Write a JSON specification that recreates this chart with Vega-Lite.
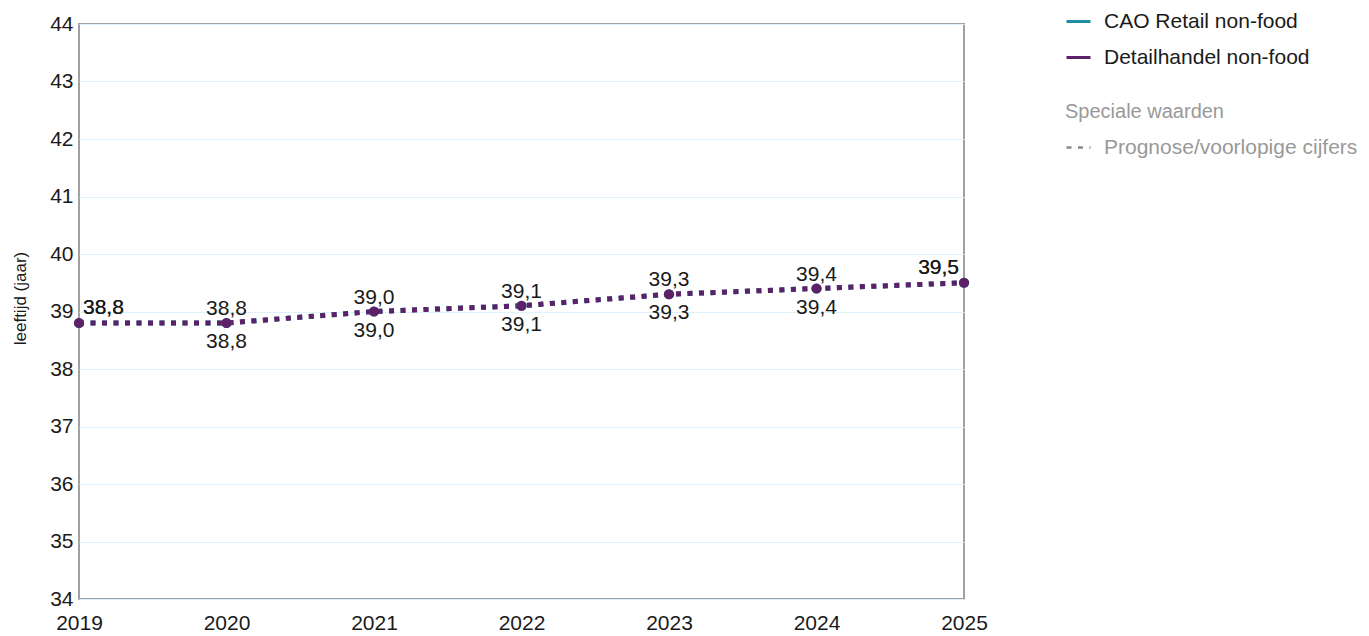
{
  "$schema": "https://vega.github.io/schema/vega-lite/v6.json",
  "width": 885,
  "height": 575,
  "autosize": {"type": "none"},
  "padding": {"left": 79, "top": 24, "right": 405, "bottom": 37},
  "background": "white",
  "config": {
    "font": "Liberation Sans",
    "locale": {"number": {"decimal": ",", "thousands": ".", "grouping": [3], "currency": ["€", ""]}},
    "view": {"stroke": "#a0a0a0", "strokeWidth": 2},
    "axis": {"labelFont": "Liberation Sans", "titleFont": "Liberation Sans"}
  },
  "data": {
    "values": [
      {"jaar": 2019, "reeks": "CAO Retail non-food", "waarde": 38.8, "status": "Prognose/voorlopige cijfers"},
      {"jaar": 2020, "reeks": "CAO Retail non-food", "waarde": 38.8, "status": "Prognose/voorlopige cijfers"},
      {"jaar": 2021, "reeks": "CAO Retail non-food", "waarde": 39.0, "status": "Prognose/voorlopige cijfers"},
      {"jaar": 2022, "reeks": "CAO Retail non-food", "waarde": 39.1, "status": "Prognose/voorlopige cijfers"},
      {"jaar": 2023, "reeks": "CAO Retail non-food", "waarde": 39.3, "status": "Prognose/voorlopige cijfers"},
      {"jaar": 2024, "reeks": "CAO Retail non-food", "waarde": 39.4, "status": "Prognose/voorlopige cijfers"},
      {"jaar": 2025, "reeks": "CAO Retail non-food", "waarde": 39.5, "status": "Prognose/voorlopige cijfers"},
      {"jaar": 2019, "reeks": "Detailhandel non-food", "waarde": 38.8, "status": "Prognose/voorlopige cijfers"},
      {"jaar": 2020, "reeks": "Detailhandel non-food", "waarde": 38.8, "status": "Prognose/voorlopige cijfers"},
      {"jaar": 2021, "reeks": "Detailhandel non-food", "waarde": 39.0, "status": "Prognose/voorlopige cijfers"},
      {"jaar": 2022, "reeks": "Detailhandel non-food", "waarde": 39.1, "status": "Prognose/voorlopige cijfers"},
      {"jaar": 2023, "reeks": "Detailhandel non-food", "waarde": 39.3, "status": "Prognose/voorlopige cijfers"},
      {"jaar": 2024, "reeks": "Detailhandel non-food", "waarde": 39.4, "status": "Prognose/voorlopige cijfers"},
      {"jaar": 2025, "reeks": "Detailhandel non-food", "waarde": 39.5, "status": "Prognose/voorlopige cijfers"}
    ]
  },
  "encoding": {
    "x": {
      "field": "jaar", "type": "quantitative",
      "scale": {"domain": [2019, 2025], "nice": false, "zero": false},
      "axis": {"values": [2019, 2020, 2021, 2022, 2023, 2024, 2025], "format": "d", "title": null, "grid": false, "ticks": false, "domain": false, "labelPadding": 13, "labelFontSize": 21, "labelColor": "#1a1a1a", "labelFlush": false, "labelOverlap": false}
    },
    "y": {
      "field": "waarde", "type": "quantitative",
      "scale": {"domain": [34, 44], "nice": false, "zero": false},
      "axis": {"values": [34, 35, 36, 37, 38, 39, 40, 41, 42, 43, 44], "format": "d", "title": "leeftijd (jaar)", "titleFontSize": 17, "titleFontWeight": "normal", "titleColor": "#1a1a1a", "titleX": -59, "titleY": 274, "titleAngle": -90, "titleAlign": "center", "titleBaseline": "middle", "grid": true, "gridColor": "#DDF3FB", "gridWidth": 1, "ticks": false, "domain": false, "labelPadding": 6, "labelFontSize": 21, "labelColor": "#1a1a1a", "labelFlush": false, "labelOverlap": false}
    },
    "color": {
      "field": "reeks", "type": "nominal",
      "scale": {"domain": ["CAO Retail non-food", "Detailhandel non-food"], "range": ["#1F8CA3", "#5C2167"]},
      "legend": {"title": null, "orient": "none", "legendX": 986, "legendY": -16, "symbolType": "stroke", "symbolSize": 576, "symbolStrokeWidth": 3, "labelFontSize": 21, "labelColor": "#1a1a1a", "labelLimit": 0, "rowPadding": 12, "labelOffset": 12, "labelFont": "Liberation Sans"}
    }
  },
  "layer": [
    {
      "mark": {"type": "line", "strokeWidth": 5, "strokeCap": "butt"},
      "encoding": {
        "strokeDash": {
          "field": "status", "type": "nominal",
          "scale": {"range": [[5, 6.5]]},
          "legend": {"title": "Speciale waarden", "orient": "none", "legendX": 986, "legendY": 78, "titleColor": "#999999", "titleFontSize": 20, "titleFontWeight": "normal", "titleFont": "Liberation Sans", "titlePadding": 12, "titleLimit": 0, "labelColor": "#999999", "labelFontSize": 21, "labelFont": "Liberation Sans", "labelLimit": 0, "labelOffset": 12, "symbolType": "stroke", "symbolSize": 576, "symbolStrokeWidth": 2.5,
            "encode": {"symbols": {"update": {"strokeDash": {"value": [2.5, 3]}, "stroke": {"value": "#888888"}}}}}
        }
      }
    },
    {
      "mark": {"type": "point", "filled": true, "size": 105, "opacity": 1}
    },
    {
      "transform": [{"filter": "datum.reeks === 'CAO Retail non-food' && datum.jaar > 2019 && datum.jaar < 2025"}],
      "mark": {"type": "text", "fontSize": 21, "dy": -14, "align": "center", "baseline": "middle"},
      "encoding": {"text": {"field": "waarde", "type": "quantitative", "format": ".1f"}, "color": {"value": "#1a1a1a"}}
    },
    {
      "transform": [{"filter": "datum.reeks === 'Detailhandel non-food' && datum.jaar > 2019 && datum.jaar < 2025"}],
      "mark": {"type": "text", "fontSize": 21, "dy": 19, "align": "center", "baseline": "middle"},
      "encoding": {"text": {"field": "waarde", "type": "quantitative", "format": ".1f"}, "color": {"value": "#1a1a1a"}}
    },
    {
      "transform": [{"filter": "datum.jaar === 2019"}],
      "mark": {"type": "text", "fontSize": 21, "dy": -15, "dx": 4, "align": "left", "baseline": "middle"},
      "encoding": {"text": {"field": "waarde", "type": "quantitative", "format": ".1f"}, "color": {"value": "#1a1a1a"}}
    },
    {
      "transform": [{"filter": "datum.jaar === 2025"}],
      "mark": {"type": "text", "fontSize": 21, "dy": -15, "dx": -5, "align": "right", "baseline": "middle"},
      "encoding": {"text": {"field": "waarde", "type": "quantitative", "format": ".1f"}, "color": {"value": "#1a1a1a"}}
    }
  ]
}
